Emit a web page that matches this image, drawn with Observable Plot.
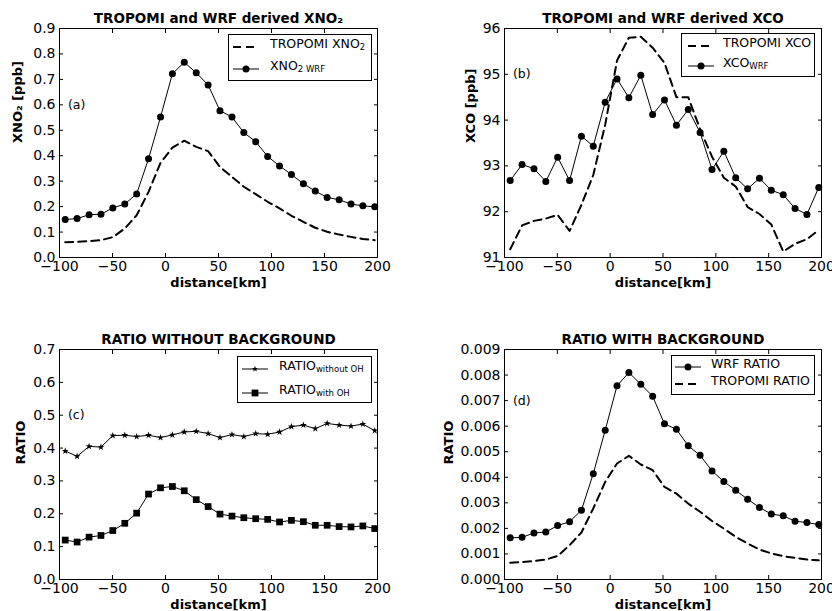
<!DOCTYPE html>
<html>
<head>
<meta charset="utf-8">
<script src="https://cdn.jsdelivr.net/npm/d3@7"></script>
<script src="https://cdn.jsdelivr.net/npm/@observablehq/plot@0.6"></script>
<style>
  html, body { margin: 0; padding: 0; background: #fff; }
  #fig { position: relative; width: 832px; height: 611px; overflow: hidden; font-family: "DejaVu Sans", sans-serif; color: #000; }
  .panel { position: absolute; }
  .panel svg { overflow: visible; }
  .legend { position: absolute; box-sizing: border-box; border: 1px solid #000; background: #fff; }
  .legend .sw { position: absolute; }
  .legend .lab { position: absolute; font-size: 12.5px; line-height: 16px; white-space: nowrap; }
  .legend sub { font-size: 8.5px; vertical-align: -2px; line-height: 0; }
</style>
</head>
<body>
<div id="fig"></div>
<script>
// ---------- data ----------
const distance = [-94.6, -83.4, -72.1, -60.9, -49.7, -38.4, -27.2, -16.0, -4.7, 6.5, 17.7, 29.0, 40.2, 51.4,
                  62.7, 73.9, 85.1, 96.4, 107.6, 118.8, 130.1, 141.3, 152.5, 163.8, 175.0, 186.2, 197.4];

const xno2Wrf = [0.149, 0.153, 0.168, 0.170, 0.195, 0.210, 0.250, 0.388, 0.552, 0.722, 0.767, 0.726, 0.678, 0.577,
                 0.552, 0.491, 0.455, 0.397, 0.360, 0.326, 0.290, 0.261, 0.236, 0.227, 0.210, 0.203, 0.199];
const xno2Tropomi = [0.060, 0.062, 0.064, 0.068, 0.080, 0.114, 0.166, 0.258, 0.372, 0.432, 0.459, 0.435, 0.418, 0.356,
                     0.317, 0.278, 0.249, 0.219, 0.193, 0.164, 0.140, 0.117, 0.101, 0.090, 0.081, 0.073, 0.068];

const xcoWrf = [92.68, 93.03, 92.94, 92.66, 93.19, 92.68, 93.65, 93.43, 94.39, 94.90, 94.49, 94.98, 94.12, 94.44,
                93.89, 94.23, 93.73, 92.92, 93.32, 92.74, 92.50, 92.73, 92.47, 92.37, 92.07, 91.94, 92.53];
const xcoTropomi = [91.18, 91.70, 91.80, 91.85, 91.93, 91.58, 92.15, 92.80, 93.90, 95.30, 95.80, 95.82, 95.58, 95.25,
                    94.50, 94.50, 93.80, 93.20, 92.74, 92.55, 92.10, 91.95, 91.72, 91.13, 91.30, 91.40, 91.60];

const ratioWithoutOH = [0.391, 0.375, 0.405, 0.403, 0.438, 0.439, 0.435, 0.439, 0.432, 0.440, 0.449, 0.451, 0.444, 0.432,
                        0.441, 0.435, 0.444, 0.442, 0.449, 0.465, 0.470, 0.459, 0.475, 0.470, 0.467, 0.473, 0.453];
const ratioWithOH = [0.120, 0.114, 0.129, 0.134, 0.149, 0.171, 0.202, 0.260, 0.279, 0.283, 0.270, 0.243, 0.222, 0.199,
                     0.193, 0.188, 0.185, 0.183, 0.175, 0.180, 0.176, 0.165, 0.165, 0.161, 0.160, 0.163, 0.155];

const ratioWrf = [0.00163, 0.00165, 0.00182, 0.00186, 0.00211, 0.00226, 0.00271, 0.00414, 0.00584, 0.00758, 0.00810,
                  0.00764, 0.00717, 0.00609, 0.00588, 0.00523, 0.00486, 0.00425, 0.00383, 0.00349, 0.00314, 0.00282,
                  0.00256, 0.00249, 0.00228, 0.00223, 0.00215];
const ratioTropomi = [0.00066, 0.00068, 0.00072, 0.00078, 0.00092, 0.00134, 0.00184, 0.00278, 0.00382, 0.00454, 0.00484,
                      0.00450, 0.00428, 0.00362, 0.00336, 0.00297, 0.00265, 0.00229, 0.00199, 0.00167, 0.00141, 0.00117,
                      0.00102, 0.00091, 0.00085, 0.00078, 0.00075];

const xTicks = [-100, -50, 0, 50, 100, 150, 200];
const yTicksA = [0, 0.1, 0.2, 0.3, 0.4, 0.5, 0.6, 0.7, 0.8, 0.9];
const yTicksB = [91, 92, 93, 94, 95, 96];
const yTicksC = [0, 0.1, 0.2, 0.3, 0.4, 0.5, 0.6, 0.7];
const yTicksD = [0, 0.001, 0.002, 0.003, 0.004, 0.005, 0.006, 0.007, 0.008, 0.009];

const titles = ["TROPOMI and WRF derived XNO₂", "TROPOMI and WRF derived XCO", "RATIO WITHOUT BACKGROUND", "RATIO WITH BACKGROUND"];
const yLabels = ["XNO₂ [ppb]", "XCO [ppb]", "RATIO", "RATIO"];
const xLabel = "distance[km]";
const tags = ["(a)", "(b)", "(c)", "(d)"];
const tagX = [-92, -92, -92, -92];
const tagY = [0.6, 95, 0.5, 0.007];

// ---------- helpers ----------
const fig = document.getElementById("fig");

function frameAxes(yTicks, yFormat) {
  return [
    Plot.frame({stroke: "#000", strokeWidth: 1}),
    Plot.axisX(xTicks, {anchor: "bottom", tickSize: -4, tickPadding: 8, fontSize: 14, label: null}),
    Plot.axisX(xTicks, {anchor: "top", tickSize: -4, tickFormat: () => "", label: null}),
    Plot.axisY(yTicks, {anchor: "left", tickSize: -4, tickPadding: 8, tickFormat: yFormat, fontSize: 14, label: null}),
    Plot.axisY(yTicks, {anchor: "right", tickSize: -4, tickFormat: () => "", label: null})
  ];
}

function texts(i, ylabelDx) {
  return [
    Plot.text([titles[i]], {frameAnchor: "top", dy: -6, lineAnchor: "bottom", fontWeight: "bold", fontSize: 13.5}),
    Plot.text([xLabel], {frameAnchor: "bottom", dy: 29, lineAnchor: "bottom", fontWeight: "bold", fontSize: 13}),
    Plot.text([yLabels[i]], {frameAnchor: "left", dx: ylabelDx, rotate: -90, fontWeight: "bold", fontSize: 13}),
    Plot.text([tags[i]], {x: [tagX[i]], y: [tagY[i]], textAnchor: "start", fontSize: 12.5})
  ];
}

function place(svg, left, top) {
  const d = document.createElement("div");
  d.className = "panel";
  d.style.left = left + "px";
  d.style.top = top + "px";
  d.appendChild(svg);
  fig.appendChild(d);
}

const style = {fontFamily: "DejaVu Sans", fontSize: "14px", background: "transparent", color: "#000", overflow: "visible"};
const dash = "8,5";

// ---------- panel (a) ----------
place(Plot.plot({
  width: 416, height: 300,
  marginLeft: 59, marginRight: 39, marginTop: 28, marginBottom: 43,
  style,
  x: {domain: [-100, 200], label: null},
  y: {domain: [0, 0.9], label: null},
  marks: [
    ...frameAxes(yTicksA, d3.format(".1f")),
    Plot.line(xno2Tropomi, {x: distance, y: xno2Tropomi, stroke: "#000", strokeWidth: 2, strokeDasharray: dash}),
    Plot.line(xno2Wrf, {x: distance, y: xno2Wrf, stroke: "#000", strokeWidth: 1}),
    Plot.dot(xno2Wrf, {x: distance, y: xno2Wrf, r: 3.5, fill: "#000"}),
    ...texts(0, -42)
  ]
}), 0, 0);

// ---------- panel (b) ----------
place(Plot.plot({
  width: 416, height: 300,
  marginLeft: 88, marginRight: 11, marginTop: 28, marginBottom: 43,
  style,
  x: {domain: [-100, 200], label: null},
  y: {domain: [91, 96], label: null},
  marks: [
    ...frameAxes(yTicksB, d3.format("d")),
    Plot.line(xcoTropomi, {x: distance, y: xcoTropomi, stroke: "#000", strokeWidth: 2, strokeDasharray: dash}),
    Plot.line(xcoWrf, {x: distance, y: xcoWrf, stroke: "#000", strokeWidth: 1}),
    Plot.dot(xcoWrf, {x: distance, y: xcoWrf, r: 3.5, fill: "#000"}),
    ...texts(1, -34)
  ]
}), 416, 0);

// ---------- panel (c) ----------
place(Plot.plot({
  width: 416, height: 311,
  marginLeft: 59, marginRight: 39, marginTop: 49, marginBottom: 32,
  style,
  x: {domain: [-100, 200], label: null},
  y: {domain: [0, 0.7], label: null},
  marks: [
    ...frameAxes(yTicksC, d3.format(".1f")),
    Plot.line(ratioWithoutOH, {x: distance, y: ratioWithoutOH, stroke: "#000", strokeWidth: 1}),
    Plot.dot(ratioWithoutOH, {x: distance, y: ratioWithoutOH, symbol: "star", r: 2.2, fill: "#000"}),
    Plot.line(ratioWithOH, {x: distance, y: ratioWithOH, stroke: "#000", strokeWidth: 1}),
    Plot.dot(ratioWithOH, {x: distance, y: ratioWithOH, symbol: "square", r: 3.8, fill: "#000"}),
    ...texts(2, -39)
  ]
}), 0, 300);

// ---------- panel (d) ----------
place(Plot.plot({
  width: 416, height: 311,
  marginLeft: 88, marginRight: 11, marginTop: 49, marginBottom: 32,
  style,
  x: {domain: [-100, 200], label: null},
  y: {domain: [0, 0.009], label: null},
  marks: [
    ...frameAxes(yTicksD, d3.format(".3f")),
    Plot.line(ratioTropomi, {x: distance, y: ratioTropomi, stroke: "#000", strokeWidth: 2, strokeDasharray: dash}),
    Plot.line(ratioWrf, {x: distance, y: ratioWrf, stroke: "#000", strokeWidth: 1}),
    Plot.dot(ratioWrf, {x: distance, y: ratioWrf, r: 3.5, fill: "#000"}),
    ...texts(3, -56)
  ]
}), 416, 300);

// ---------- legends ----------
function swatch(kind) {
  const w = 26, h = 12;
  let s = `<svg width="${w}" height="${h}" viewBox="0 0 ${w} ${h}">`;
  if (kind === "dash") {
    s += `<line x1="0" y1="6" x2="${w}" y2="6" stroke="#000" stroke-width="2" stroke-dasharray="8,5"/>`;
  } else {
    s += `<line x1="0" y1="6" x2="${w}" y2="6" stroke="#000" stroke-width="1"/>`;
    if (kind === "circle") s += `<circle cx="13" cy="6" r="3.5" fill="#000"/>`;
    if (kind === "square") s += `<rect x="9.6" y="2.6" width="6.8" height="6.8" fill="#000"/>`;
    if (kind === "star") {
      const pts = [];
      for (let k = 0; k < 10; k++) {
        const a = -Math.PI / 2 + k * Math.PI / 5;
        const rr = k % 2 === 0 ? 3.2 : 1.3;
        pts.push((13 + rr * Math.cos(a)).toFixed(2) + "," + (6 + rr * Math.sin(a)).toFixed(2));
      }
      s += `<polygon points="${pts.join(" ")}" fill="#000"/>`;
    }
  }
  return s + "</svg>";
}

function legend(box, rows) {
  const d = document.createElement("div");
  d.className = "legend";
  d.style.left = box.x + "px";
  d.style.top = box.y + "px";
  d.style.width = box.w + "px";
  d.style.height = box.h + "px";
  rows.forEach(r => {
    const sw = document.createElement("div");
    sw.className = "sw";
    sw.style.left = (box.sx - box.x) + "px";
    sw.style.top = (r.y - box.y - 7) + "px";
    sw.innerHTML = swatch(r.kind);
    d.appendChild(sw);
    const lab = document.createElement("div");
    lab.className = "lab";
    lab.style.left = (box.tx - box.x) + "px";
    lab.style.top = (r.y - box.y - 9) + "px";
    lab.innerHTML = r.html;
    d.appendChild(lab);
  });
  fig.appendChild(d);
}

legend({x: 228, y: 34, w: 144, h: 47, sx: 232, tx: 269}, [
  {y: 44, kind: "dash", html: "TROPOMI XNO<sub>2</sub>"},
  {y: 66, kind: "circle", html: "XNO<sub>2 WRF</sub>"}
]);
legend({x: 681, y: 33, w: 134, h: 44, sx: 687, tx: 722}, [
  {y: 43, kind: "dash", html: "TROPOMI XCO"},
  {y: 63, kind: "circle", html: "XCO<sub>WRF</sub>"}
]);
legend({x: 237, y: 356, w: 135, h: 47, sx: 241, tx: 278}, [
  {y: 366, kind: "star", html: "RATIO<sub>without OH</sub>"},
  {y: 390, kind: "square", html: "RATIO<sub>with OH</sub>"}
]);
legend({x: 671, y: 355, w: 144, h: 40, sx: 674, tx: 710}, [
  {y: 364, kind: "circle", html: "WRF RATIO"},
  {y: 381, kind: "dash", html: "TROPOMI RATIO"}
]);
</script>
</body>
</html>
